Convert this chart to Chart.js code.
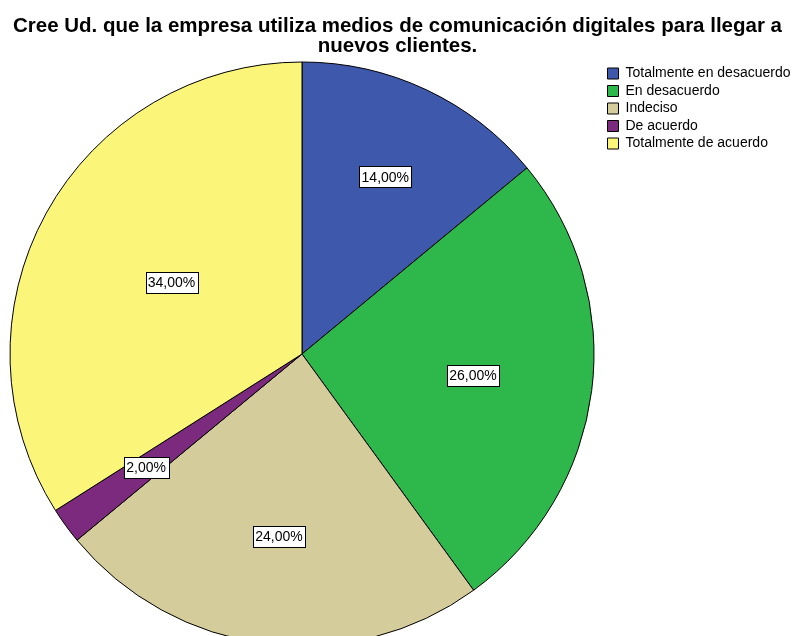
<!DOCTYPE html>
<html>
<head>
<meta charset="utf-8">
<script src="https://cdn.jsdelivr.net/npm/chart.js@4"></script>
<style>
  html, body { margin: 0; padding: 0; background: #fff; overflow: hidden; }
  /* canvas runs a little past the window bottom, the reference pie is cut off there too */
  #wrap { width: 795px; height: 636px; overflow: hidden; }
</style>
</head>
<body>
<div id="wrap"><canvas id="myChart" width="795" height="645"></canvas></div>
<script>
const categories = ['Totalmente en desacuerdo', 'En desacuerdo', 'Indeciso', 'De acuerdo', 'Totalmente de acuerdo'];
const percents = [14, 26, 24, 2, 34];
const colors = ['#3e58ab', '#2eb84b', '#d4cc9a', '#7b2a7d', '#fbf57a'];
const titleLines = ['Cree Ud. que la empresa utiliza medios de comunicación digitales para llegar a', 'nuevos clientes.'];

// how far out each label sits (fraction of radius)
const labelDist = [0.67, 0.59, 0.63, 0.66, 0.51];

const pieLabels = {
    id: 'pieLabels',
    afterDatasetsDraw(chart) {
        const ctx = chart.ctx;
        const arcs = chart.getDatasetMeta(0).data;
        ctx.save();
        ctx.font = '14px "Liberation Sans", Arial, sans-serif';
        ctx.textAlign = 'center';
        ctx.textBaseline = 'middle';
        arcs.forEach(function(arc, i) {
            const p = arc.getProps(['x', 'y', 'startAngle', 'endAngle', 'outerRadius'], true);
            const mid = (p.startAngle + p.endAngle) / 2;
            const r = p.outerRadius * labelDist[i];
            const x = p.x + Math.cos(mid) * r;
            const y = p.y + Math.sin(mid) * r;
            const txt = percents[i].toFixed(2).replace('.', ',') + '%';
            const w = Math.round(ctx.measureText(txt).width + 5);
            const h = 21;
            const bx = Math.round(x - w / 2) + 0.5;
            const by = Math.round(y - h / 2) + 0.5;
            ctx.fillStyle = '#fff';
            ctx.fillRect(bx, by, w, h);
            ctx.strokeStyle = '#000';
            ctx.lineWidth = 1;
            ctx.strokeRect(bx, by, w, h);
            ctx.fillStyle = '#000';
            ctx.fillText(txt, x, y + 1);
        });
        ctx.restore();
    }
};

var ctx = document.getElementById('myChart').getContext('2d');
var myChart = new Chart(ctx, {
    type: 'pie',
    data: {
        labels: categories,
        datasets: [{
            data: percents,
            backgroundColor: colors,
            borderColor: '#000',
            borderWidth: 1
        }]
    },
    options: {
        responsive: false,
        animation: false,
        radius: 292,
        layout: {
            padding: 0
        },
        plugins: {
            title: {
                display: true,
                text: titleLines,
                color: '#000',
                font: { family: '"Liberation Sans", Arial, sans-serif', size: 20.5, weight: 'bold', lineHeight: 1.0 },
                padding: { top: 16, bottom: 6 }
            },
            legend: {
                position: 'right',
                align: 'start',
                fullSize: false,
                maxWidth: 191,
                labels: {
                    color: '#000',
                    boxWidth: 11,
                    boxHeight: 11,
                    padding: 3.5,
                    font: { family: '"Liberation Sans", Arial, sans-serif', size: 14, lineHeight: 1.2 }
                }
            },
            tooltip: { enabled: false }
        }
    },
    plugins: [pieLabels]
});
</script>
</body>
</html>
